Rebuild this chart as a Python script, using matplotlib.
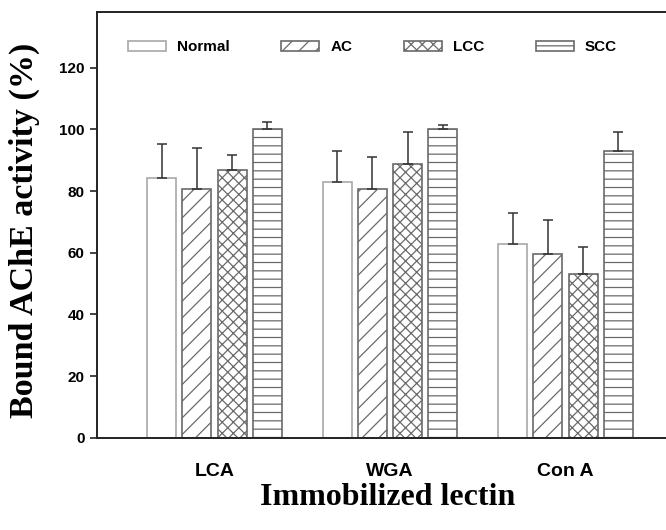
import numpy as np
import matplotlib.pyplot as plt

# Bound AChE activity (%) for each lectin and tissue group
lectins = ['LCA', 'WGA', 'Con A']
groups = ['Normal', 'AC', 'LCC', 'SCC']
means = {
    'Normal': [84.3, 82.8, 62.7],
    'AC': [80.8, 80.7, 59.5],
    'LCC': [86.7, 88.9, 53.0],
    'SCC': [100.0, 100.0, 93.0],
}
errors = {
    'Normal': [11.0, 10.3, 10.2],
    'AC': [13.3, 10.3, 11.2],
    'LCC': [5.0, 10.3, 9.0],
    'SCC': [2.3, 1.5, 6.3],
}
hatches = {'Normal': '', 'AC': '//', 'LCC': 'xxx', 'SCC': '--'}
edges = {'Normal': '#a8a8a8', 'AC': '#6a6a6a', 'LCC': '#6a6a6a', 'SCC': '#6a6a6a'}

plt.rcParams['hatch.linewidth'] = 0.9

fig = plt.figure(figsize=(6.66, 5.3), dpi=100)
ax = fig.add_axes([0.1456, 0.174, 0.8544, 0.803])

x = np.arange(len(lectins))
width = 0.165
step = 0.201
offsets = [-1.5, -0.5, 0.5, 1.5]

for g, off in zip(groups, offsets):
    pos = x + off * step
    ax.bar(pos, means[g], width, color='white', edgecolor=edges[g],
           hatch=hatches[g], linewidth=1.2, label=g, zorder=2)
    ax.errorbar(pos, means[g], yerr=[[0] * len(lectins), errors[g]],
                fmt='none', ecolor='#333333', elinewidth=1.1, capsize=3.6,
                capthick=1.1, zorder=3)

ax.set_xlim(-0.67, 2.573)
ax.set_ylim(0, 138)
ax.set_yticks([0, 20, 40, 60, 80, 100, 120])
ax.set_xticks(x)
ax.set_xticklabels(lectins, fontsize=14, fontweight='bold', family='Liberation Sans')
for lab in ax.get_yticklabels():
    lab.set_fontsize(11)
    lab.set_fontweight('bold')
    lab.set_family('Liberation Sans')
ax.tick_params(axis='x', length=0, pad=18)
ax.tick_params(axis='y', direction='out', length=5, width=1.2, pad=4, color='#222222')
ax.spines['right'].set_visible(False)
for s in ['left', 'top', 'bottom']:
    ax.spines[s].set_linewidth(1.4)
    ax.spines[s].set_color('#222222')

ax.set_xlabel('Immobilized lectin', fontsize=23, fontweight='bold',
              family='Liberation Serif')
ax.xaxis.set_label_coords(0.511, -0.106)
ax.set_ylabel('Bound AChE activity (%)', fontsize=24.5, fontweight='bold',
              family='Liberation Serif')
ax.yaxis.set_label_coords(-0.1, 0.488)

ax.legend(loc='center left', bbox_to_anchor=(0.054, 0.918), ncol=4, frameon=False,
          prop={'family': 'Liberation Sans', 'weight': 'bold', 'size': 11},
          handlelength=2.5, handleheight=0.65, columnspacing=3.4,
          handletextpad=0.7, borderpad=0, borderaxespad=0)

fig.savefig('out.png', dpi=100, facecolor='white')
